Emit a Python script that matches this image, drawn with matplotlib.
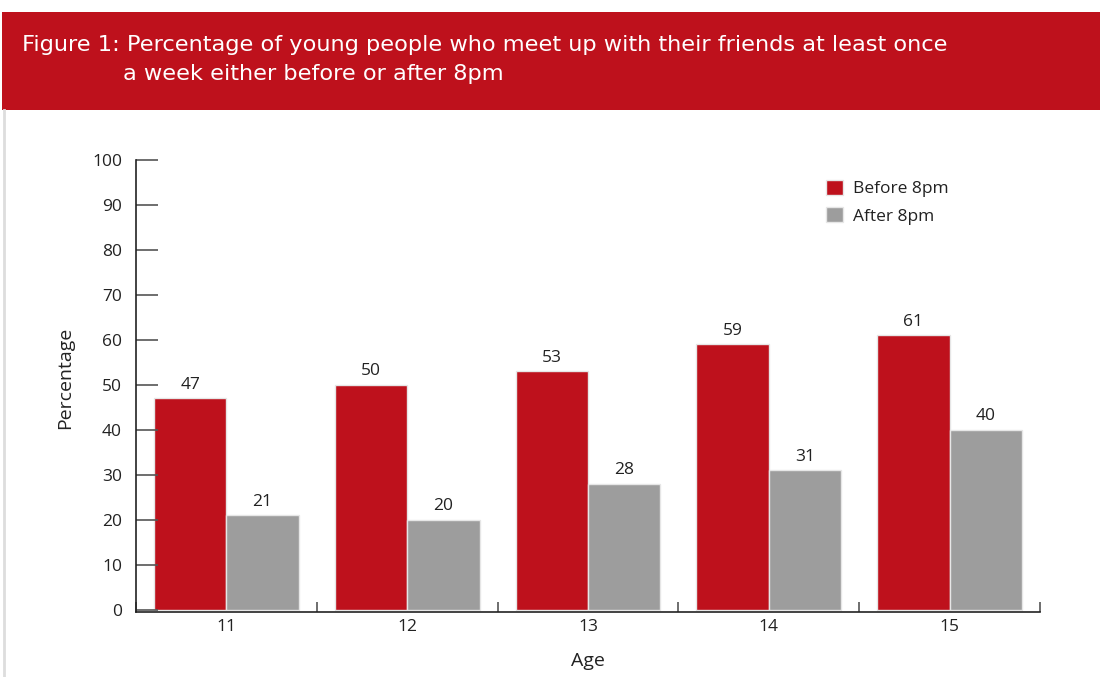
import matplotlib
matplotlib.use("Agg")
import matplotlib.pyplot as plt
import numpy as np
from matplotlib.patches import Rectangle
from matplotlib.lines import Line2D
from matplotlib import font_manager

ages = ["11", "12", "13", "14", "15"]
before_8pm = [47, 50, 53, 59, 61]
after_8pm = [21, 20, 28, 31, 40]
series_labels = ["Before 8pm", "After 8pm"]
yticks = [0, 10, 20, 30, 40, 50, 60, 70, 80, 90, 100]

RED = "#BE111C"
GRAY = "#9D9D9D"
TXT = "#222222"

names = {f.name for f in font_manager.fontManager.ttflist}
body_font = "Open Sans" if "Open Sans" in names else "DejaVu Sans"
plt.rcParams["font.family"] = [body_font, "DejaVu Sans"]

W, H = 1100, 677
fig = plt.figure(figsize=(W / 100, H / 100), dpi=100)

def fx(px):
    return px / W

def fy(py):
    return 1 - py / H

# banner
fig.patches.append(Rectangle((fx(2), fy(110)), fx(1098), fy(12) - fy(110),
                             transform=fig.transFigure, facecolor=RED, edgecolor="none", zorder=0))
fig.lines.append(Line2D([fx(4), fx(4)], [fy(110), 0], transform=fig.transFigure,
                        color="#DDDDDD", lw=2))
fig.text(fx(22), fy(45), "Figure 1: Percentage of young people who meet up with their friends at least once",
         color="white", fontsize=16.2, family=["DejaVu Sans"], va="center", ha="left")
fig.text(fx(123), fy(74), "a week either before or after 8pm",
         color="white", fontsize=16.2, family=["DejaVu Sans"], va="center", ha="left")

ax = fig.add_axes([fx(136), fy(612), fx(1040) - fx(136), fy(160) - fy(612)])
x = np.arange(len(ages))
w = 0.4
b1 = ax.bar(x - w / 2, before_8pm, w, color=RED, edgecolor="#E6E6E6", linewidth=1.0, label=series_labels[0])
b2 = ax.bar(x + w / 2, after_8pm, w, color=GRAY, edgecolor="#E6E6E6", linewidth=1.0, label=series_labels[1])
for bars in (b1, b2):
    ax.bar_label(bars, padding=4, fontsize=12.5, color=TXT)

ax.set_xlim(-0.5, len(ages) - 0.5)
ax.set_ylim(-0.45, 100)
ax.set_yticks(yticks)
ax.set_xticks(x)
ax.set_xticklabels(ages)
ax.set_xticks(np.arange(len(ages) + 1) - 0.5, minor=True)
ax.tick_params(axis="y", direction="in", length=16, width=1.2, color="#555555", pad=10,
               labelsize=12.5, labelcolor=TXT)
ax.tick_params(axis="x", which="major", length=0, pad=5, labelsize=12.5, labelcolor=TXT)
ax.tick_params(axis="x", which="minor", direction="in", length=7, width=1.2, color="#555555")
for s in ("top", "right"):
    ax.spines[s].set_visible(False)
for s in ("left", "bottom"):
    ax.spines[s].set_color("#222222")
    ax.spines[s].set_linewidth(1.2)

ax.set_ylabel("Percentage", fontsize=14, color=TXT)
ax.yaxis.set_label_coords(-(136 - 74) / 904, (612 - 378) / 452)
ax.set_xlabel("Age", fontsize=14, color=TXT, labelpad=12)

ax.legend(loc="upper left", bbox_to_anchor=(fx(817), fy(171)), bbox_transform=fig.transFigure,
          frameon=False, borderpad=0, handlelength=1.0, handleheight=1.0, handletextpad=0.6,
          labelspacing=0.55, fontsize=12.5, labelcolor=TXT)

fig.savefig("out.png", dpi=100)
